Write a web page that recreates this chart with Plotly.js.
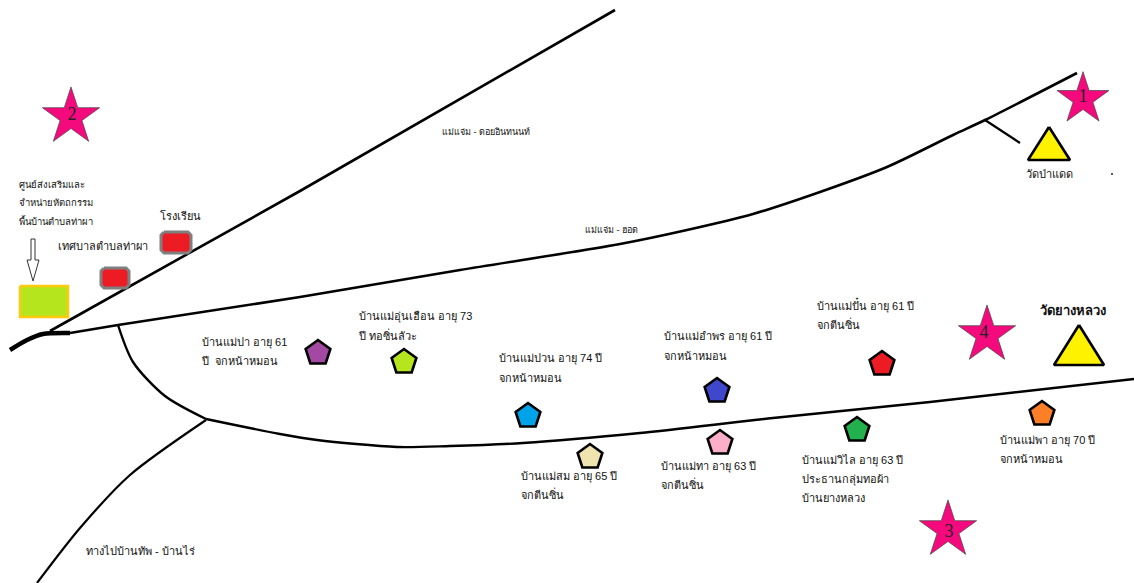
<!DOCTYPE html>
<html><head><meta charset="utf-8">
<script src="https://cdn.plot.ly/plotly-3.0.1.min.js"></script>
<style>html,body{margin:0;padding:0;background:#fff}#c{width:1134px;height:583px}</style>
</head><body><div id="c"></div>
<script>
// Roads (map coordinates)
const roadAX=[50,300,615], roadAY=[331,191,10];
const roadBX=[118,300,460,620,687,753,820,887,953,985,1077], roadBY=[325,297,270,244,230,214,192,167,135,120,73];
const roadThickX=[10,27,43,70], roadThickY=[350,340,334,333];
const roadJoinX=[70,118], roadJoinY=[333,325];
const roadC1X=[118,133,165,206], roadC1Y=[325,362,396,419];
const roadC2X=[206,280,317,397,450,523,640,773,930,1134], roadC2Y=[419,434,440,447,446,443,433,418,402,379];
const roadDX=[206,130,80,37], roadDY=[420,475,528,583];
const spurX=[985,1020], spurY=[120,143];
// Houses
const houseX=[318,404,528,590,717,720,882,857,1042];
const houseY=[353,362,416,457,391,443,364,430,414];
const houseColors=['#a349a4','#b5e61d','#00a2e8','#efe4b0','#3f48cc','#ffaec9','#ed1c24','#22b14c','#ff7f27'];
// Stars
const starX=[1083,71,948,987], starY=[99,117,530,335], starSizes=[39,43,43,43];
const starLabelX=[1083,72,949,984], starLabelY=[97,115,532,333], starLabels=['1','2','3','4'];
// Temples
const temple1X=[1049,1070,1028,1049], temple1Y=[127,160,160,127];
const temple2X=[1079,1104,1054,1079], temple2Y=[325,365,365,325];
// Buildings
const centreX=[20,68,68,20,20], centreY=[286,286,317,317,286];
const school1X=[104,126,129,129,126,104,101,101,104], school1Y=[268,268,271,285,288,288,285,271,268];
const school2X=[164,188,191,191,188,164,161,161,164], school2Y=[232,232,235,250,253,253,250,235,232];
const arrowX=[31,35,35,39,33,27,31,31], arrowY=[239,239,260,260,281,260,260,239];
// Text
const labelText=['บ้านแม่ปา อายุ 61','ปี  จกหน้าหมอน','บ้านแม่อุ่นเฮือน อายุ 73','ปี ทอซิ่นลัวะ','บ้านแม่ปวน อายุ 74 ปี','จกหน้าหมอน','บ้านแม่สม อายุ 65 ปี','จกตีนซิ่น','บ้านแม่อำพร อายุ 61 ปี','จกหน้าหมอน','บ้านแม่ทา อายุ 63 ปี','จกตีนซิ่น','บ้านแม่ปั๋น อายุ 61 ปี','จกตีนซิ่น','บ้านแม่วิไล อายุ 63 ปี','ประธานกลุ่มทอผ้า','บ้านยางหลวง','บ้านแม่พา อายุ 70 ปี','จกหน้าหมอน','วัดป่าแดด','โรงเรียน','เทศบาลตำบลท่าผา','ทางไปบ้านทัพ - บ้านไร่'];
const labelX=[202,202,359,359,499,499,521,521,664,664,661,661,817,817,802,802,802,1000,1000,1026,160,58,86];
const labelY=[343,362,317,337,359,379,477,496,337,357,467,486,307,326,461,480,499,441,460,175,217,247,552];
const smallText=['ศูนย์ส่งเสริมและ','จำหน่ายหัตถกรรม','พื้นบ้านตำบลท่าผา'];
const smallX=[19,19,19], smallY=[186,204,223];
const roadText=['แม่แจ่ม - ดอยอินทนนท์','แม่แจ่ม - ฮอด'];
const roadTextX=[442,585], roadTextY=[133,231];
const templeTitle=['วัดยางหลวง'], templeTitleX=[1040], templeTitleY=[312];
const dotX=[1112], dotY=[174];

const FONT='Tahoma, "Liberation Sans", "Noto Sans", sans-serif';
const road=(x,y,w,shape)=>({type:'scatter',mode:'lines',x,y,hoverinfo:'skip',line:{color:'#000',width:w,shape:shape||'spline',smoothing:0.8}});
const poly=(x,y,fill,lc,lw)=>({type:'scatter',mode:'lines',x,y,fill:'toself',fillcolor:fill,hoverinfo:'skip',line:{color:lc,width:lw}});
const txt=(text,x,y,size,extra)=>({type:'scatter',mode:'text',x,y,text,textposition:'middle right',hoverinfo:'skip',textfont:Object.assign({family:FONT,size,color:'#111'},extra||{})});

const traces=[
 road(roadAX,roadAY,2.6,'linear'),
 road(roadBX,roadBY,2.6),
 road(roadThickX,roadThickY,4.5),
 road(roadJoinX,roadJoinY,2.6,'linear'),
 road(roadC1X,roadC1Y,2.4),
 road(roadC2X,roadC2Y,2.4),
 road(roadDX,roadDY,2.2),
 road(spurX,spurY,2.2,'linear'),
 poly(centreX,centreY,'#b5e61d','#ffc90e',2.5),
 poly(school1X,school1Y,'#ed1c24','#7f7f7f',3),
 poly(school2X,school2Y,'#ed1c24','#7f7f7f',3),
 poly(arrowX,arrowY,'#fff','#333',1),
 poly(temple1X,temple1Y,'#fff200','#000',2.6),
 poly(temple2X,temple2Y,'#fff200','#000',2.6),
 {type:'scatter',mode:'markers',x:houseX,y:houseY,hoverinfo:'skip',marker:{symbol:'pentagon',size:26,opacity:1,color:houseColors,line:{color:'#000',width:2.6}}},
 {type:'scatter',mode:'markers',x:starX,y:starY,hoverinfo:'skip',marker:{symbol:'star',size:starSizes,opacity:1,color:'#f50a7e',line:{color:'#444',width:0.7}}},
 {type:'scatter',mode:'text',x:starLabelX,y:starLabelY,text:starLabels,textposition:'middle center',hoverinfo:'skip',textfont:{family:'"Liberation Serif",serif',size:18,color:'#222'}},
 {type:'scatter',mode:'markers',x:dotX,y:dotY,hoverinfo:'skip',marker:{size:2,color:'#222'}},
 txt(labelText,labelX,labelY,11),
 txt(smallText,smallX,smallY,9.5),
 txt(roadText,roadTextX,roadTextY,9),
 txt(templeTitle,templeTitleX,templeTitleY,13,{weight:'bold'})
];
Plotly.newPlot('c',traces,{
 width:1134,height:583,margin:{l:0,r:0,t:0,b:0},showlegend:false,paper_bgcolor:'#fff',plot_bgcolor:'#fff',
 xaxis:{range:[0,1134],visible:false,fixedrange:true},
 yaxis:{range:[583,0],visible:false,fixedrange:true}
},{staticPlot:true,displayModeBar:false});
</script></body></html>
